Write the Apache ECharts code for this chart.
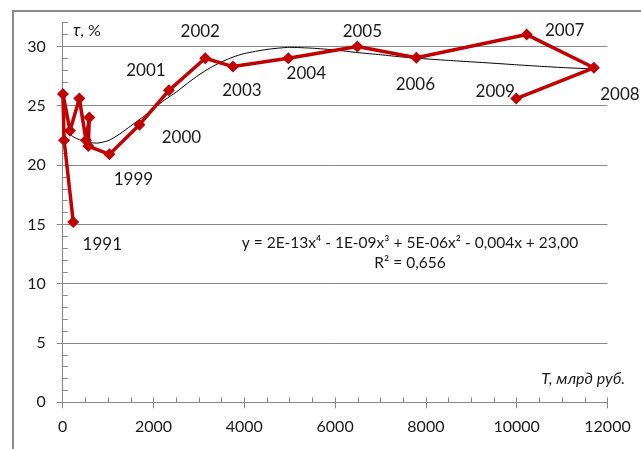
<!DOCTYPE html>
<html>
<head>
<meta charset="utf-8">
<title>τ vs T</title>
<script src="https://cdn.jsdelivr.net/npm/echarts@6/dist/echarts.min.js"></script>
<style>
  html, body { margin: 0; padding: 0; background: #ffffff; }
  #chart { width: 641px; height: 449px; }
</style>
</head>
<body>
<div id="chart"></div>
<script>
// Yearly observations: tax base T (billion rubles) and rate τ (%)
const years    = [1991, 1992, 1993, 1994, 1995, 1996, 1997, 1998, 1999, 2000,
                  2001, 2002, 2003, 2004, 2005, 2006, 2007, 2008, 2009];
const baseT    = [233, 30, 5, 161, 366, 513, 586, 564, 1030, 1690,
                  2340, 3140, 3750, 4970, 6490, 7790, 10220, 11700, 9990];
const rateTau  = [15.2, 22.1, 26.0, 22.9, 25.6, 22.1, 24.0, 21.6, 20.9, 23.4,
                  26.3, 29.0, 28.3, 29.0, 30.0, 29.05, 31.0, 28.2, 25.6];

// Years that carry a text label
const labelledYears = [1991, 1999, 2000, 2001, 2002, 2003, 2004, 2005, 2006, 2007, 2008, 2009];

// Polynomial trend curve, sampled along T
const trendX = [0, 250, 500, 750, 1000, 1250, 1500, 1750, 2000, 2250, 2500, 2750, 3000, 3250,
                3500, 3750, 4000, 4500, 5000, 5500, 6000, 6500, 7000, 7500, 8000, 8500,
                9000, 9500, 10000, 10500, 11000, 11700];
const trendY = [23.0, 22.35, 21.95, 21.85, 22.05, 22.6, 23.3, 24.0, 24.75, 25.5, 26.15, 26.9, 27.6, 28.2,
                28.7, 29.1, 29.4, 29.75, 29.92, 29.85, 29.7, 29.48, 29.3, 29.1, 28.95, 28.82,
                28.7, 28.58, 28.45, 28.33, 28.22, 28.1];

// Axis ticks
const xTicks = { min: 0, max: 12000, major: 2000, minor: 500 };
const yTicks = { min: 0, max: 32, major: 5, minor: 1 };

const trendEquation = 'y = 2E-13x⁴ - 1E-09x³ + 5E-06x² - 0,004x + 23,00';
const trendR2 = 'R² = 0,656';

// Label placement around each labelled marker (pixels from marker centre)
const labelShift = {
  1991: [29, 23], 1999: [24, 25], 2000: [42, 13], 2001: [-23, -20],
  2002: [-5, -27], 2003: [9, 24], 2004: [18, 15], 2005: [5, -15],
  2006: [-1, 27], 2007: [38, -4], 2008: [26, 27], 2009: [-21, -7]
};

const FONT = 'Lato';
const AXIS_GREY = '#878787';
const TEXT = '#1a1a1a';
const RED = '#c00000';

const seriesData = years.map((yr, i) => {
  const item = { value: [baseT[i], rateTau[i]] };
  if (labelledYears.includes(yr)) {
    item.label = { show: true, formatter: String(yr), offset: labelShift[yr] };
  }
  return item;
});

const trendData = trendX.map((x, i) => [x, trendY[i]]);

const chart = echarts.init(document.getElementById('chart'), null, { renderer: 'canvas' });

const gridRect = { left: 62.7, right: 33.5, top: 22.7, bottom: 46.7 };

chart.setOption({
  animation: false,
  backgroundColor: '#ffffff',
  textStyle: { fontFamily: FONT },
  grid: gridRect,
  xAxis: [
    {
      type: 'value', position: 'bottom',
      min: xTicks.min, max: xTicks.max, interval: xTicks.major,
      axisLine: { show: true, lineStyle: { color: AXIS_GREY, width: 1 } },
      axisTick: { show: true, inside: false, length: 6, lineStyle: { color: AXIS_GREY } },
      axisLabel: { color: TEXT, fontSize: 16, fontFamily: FONT, margin: 17, formatter: v => String(v) },
      splitLine: { show: false }
    },
    {
      type: 'value', position: 'bottom', offset: 0,
      min: xTicks.min, max: xTicks.max, interval: xTicks.minor,
      axisLine: { show: false },
      axisTick: { show: true, inside: true, length: 5, lineStyle: { color: AXIS_GREY } },
      axisLabel: { show: false },
      splitLine: { show: false }
    }
  ],
  yAxis: [
    {
      type: 'value', position: 'left',
      min: yTicks.min, max: yTicks.max, interval: yTicks.major,
      axisLine: { show: true, lineStyle: { color: AXIS_GREY, width: 1 } },
      axisTick: { show: true, inside: false, length: 6, lineStyle: { color: AXIS_GREY } },
      axisLabel: { color: TEXT, fontSize: 16, fontFamily: FONT, margin: 17, showMaxLabel: false, formatter: v => String(v) },
      splitLine: { show: true, showMaxLine: false, lineStyle: { color: AXIS_GREY, width: 1 } }
    },
    {
      type: 'value', position: 'left', offset: 0,
      min: yTicks.min, max: yTicks.max, interval: yTicks.minor,
      axisLine: { show: false },
      axisTick: { show: true, inside: true, length: 5, lineStyle: { color: AXIS_GREY } },
      axisLabel: { show: false },
      splitLine: { show: false }
    }
  ],
  series: [
    {
      name: 'trend',
      type: 'line',
      xAxisIndex: 0, yAxisIndex: 0,
      data: trendData,
      smooth: 0.2,
      symbol: 'none',
      lineStyle: { color: '#000000', width: 1 },
      z: 3
    },
    {
      name: 'τ',
      type: 'line',
      xAxisIndex: 0, yAxisIndex: 0,
      data: seriesData,
      symbol: 'diamond',
      symbolSize: 12,
      itemStyle: { color: RED },
      lineStyle: { color: RED, width: 3.5 },
      label: {
        show: false,
        position: 'inside',
        align: 'center',
        verticalAlign: 'middle',
        color: TEXT,
        fontSize: 17,
        fontFamily: FONT
      },
      z: 4
    }
  ],
  graphic: [
    {
      type: 'rect',
      shape: { x: 13, y: 11, width: 720, height: 520 },
      style: { fill: 'none', stroke: '#8a8a8a', lineWidth: 2 },
      silent: true,
      z: 0
    },
    {
      type: 'text',
      left: 73, top: 22,
      style: {
        text: '{i|τ}{n|, %}',
        rich: {
          i: { fontStyle: 'italic', fontSize: 17, fontFamily: FONT, fill: TEXT },
          n: { fontSize: 16, fontFamily: FONT, fill: TEXT }
        }
      },
      z: 10
    },
    {
      type: 'text',
      right: 16, top: 371,
      style: {
        text: 'T, млрд руб.',
        fontStyle: 'italic', fontSize: 16, fontFamily: FONT, fill: TEXT, align: 'right'
      },
      z: 10
    },
    {
      type: 'text',
      x: 410, y: 243,
      style: {
        text: trendEquation,
        fontSize: 15.5, fontFamily: FONT, fill: TEXT,
        align: 'center', verticalAlign: 'middle'
      },
      z: 10
    },
    {
      type: 'text',
      x: 410, y: 263,
      style: {
        text: trendR2,
        fontSize: 15.5, fontFamily: FONT, fill: TEXT,
        align: 'center', verticalAlign: 'middle'
      },
      z: 10
    }
  ]
});
</script>
</body>
</html>
